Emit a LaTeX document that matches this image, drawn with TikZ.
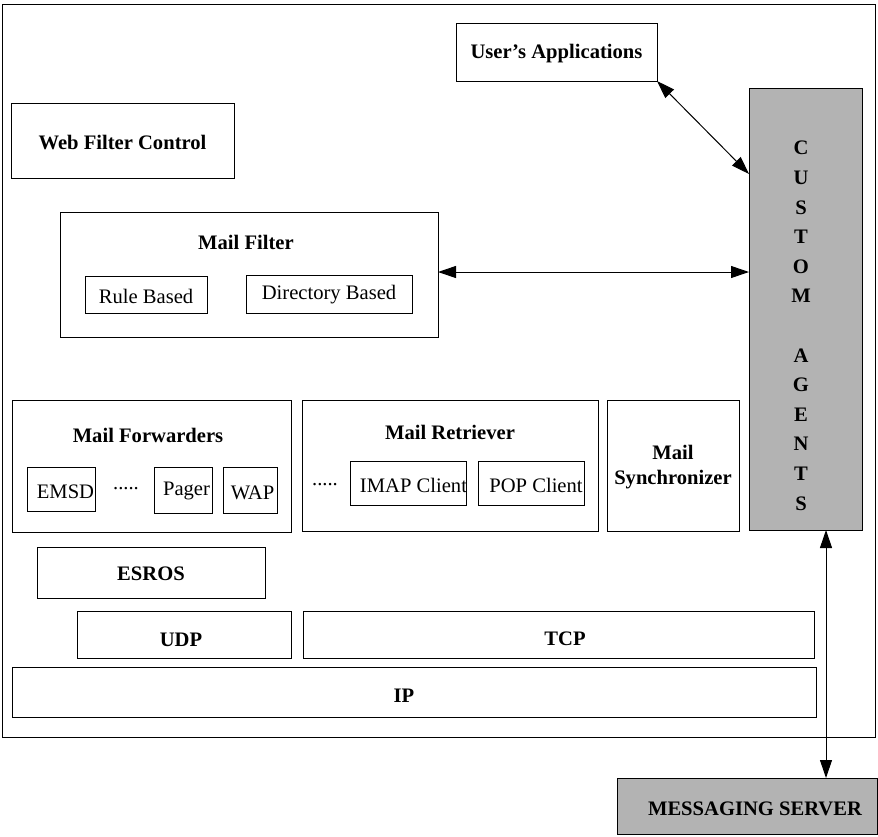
\documentclass[tikz,border=0pt]{standalone}
\usepackage{fontspec}
\setmainfont{Liberation Serif}
\usetikzlibrary{arrows.meta,calc}
\definecolor{boxgray}{RGB}{179,179,179}
\begin{document}
\begin{tikzpicture}[x=1pt,y=-1pt,
  box/.style={draw=black,line width=1pt,inner sep=0pt,outer sep=0pt,rectangle},
  btxt/.style={font=\fontsize{20.6}{25}\selectfont\bfseries,inner sep=0pt,align=center},
  rtxt/.style={font=\fontsize{20.6}{25}\selectfont,inner sep=0pt,align=center},
  link/.style={line width=1pt,{Triangle[length=18pt,width=12pt]}-{Triangle[length=18pt,width=12pt]}}]
\useasboundingbox (0,0) rectangle (878,836);
% outer frame
\node[box,minimum width=873pt,minimum height=733pt] (outer) at (438.5,370.5) {};
% top
\node[box,minimum width=201pt,minimum height=58pt] (ua) at (556.5,52) {};
\node[btxt] (uat) at (556.5,54) {User’s Applications};
\node[box,fill=boxgray,minimum width=113pt,minimum height=442pt] (ca) at (805.5,309) {};
\node[btxt,font=\fontsize{20.6}{29.6}\selectfont\bfseries,anchor=north] (cat) at (801,141) {C\\U\\S\\T\\O\\M\\[29.6pt]A\\G\\E\\N\\T\\S};
\node[box,minimum width=223pt,minimum height=75pt] (wfc) at (122.5,140.5) {};
\node[btxt] (wfct) at (122.5,143) {Web Filter Control};
% mail filter
\node[box,minimum width=378pt,minimum height=125pt] (mf) at (249,274.5) {};
\node[btxt] (mft) at (246,242) {Mail Filter};
\node[box,minimum width=122pt,minimum height=37pt] (rb) at (146,294.5) {};
\node[rtxt] (rbt) at (146,296) {Rule Based};
\node[box,minimum width=166pt,minimum height=38pt] (db) at (329,294) {};
\node[rtxt] (dbt) at (329,295) {Directory Based};
% mail forwarders
\node[box,minimum width=279pt,minimum height=132pt] (mfw) at (151.5,466) {};
\node[btxt] (mfwt) at (148,435) {Mail Forwarders};
\node[box,minimum width=68pt,minimum height=44pt] (emsd) at (61,489) {};
\node[rtxt] (emsdt) at (65.5,492) {EMSD};
\node[rtxt] (dots1) at (126,489) {.....};
\node[box,minimum width=58pt,minimum height=46pt] (pg) at (183,490) {};
\node[rtxt] (pgt) at (186.5,491) {Pager};
\node[box,minimum width=54pt,minimum height=46pt] (wap) at (250,490) {};
\node[rtxt] (wapt) at (252.5,493) {WAP};
% mail retriever
\node[box,minimum width=296pt,minimum height=131pt] (mr) at (450,465.5) {};
\node[btxt] (mrt) at (450,432) {Mail Retriever};
\node[rtxt] (dots2) at (325,485) {.....};
\node[box,minimum width=116pt,minimum height=44pt] (imap) at (408,483) {};
\node[rtxt] (imapt) at (413.5,485) {IMAP Client};
\node[box,minimum width=106pt,minimum height=44pt] (pop) at (531,483) {};
\node[rtxt] (popt) at (536,485) {POP Client};
% synchronizer
\node[box,minimum width=132pt,minimum height=131pt] (ms) at (673,465.5) {};
\node[btxt] (mst) at (673,467) {Mail\\Synchronizer};
% stack
\node[box,minimum width=228pt,minimum height=51pt] (esros) at (151,572.5) {};
\node[btxt] (esrost) at (151,574) {ESROS};
\node[box,minimum width=214pt,minimum height=47pt] (udp) at (184,634.5) {};
\node[btxt] (udpt) at (181,640) {UDP};
\node[box,minimum width=511pt,minimum height=47pt] (tcp) at (558.5,634.5) {};
\node[btxt] (tcpt) at (565,639) {TCP};
\node[box,minimum width=804pt,minimum height=50pt] (ip) at (414,692) {};
\node[btxt] (ipt) at (404,696) {IP};
% messaging server
\node[box,fill=boxgray,minimum width=260pt,minimum height=56pt] (msv) at (747,806) {};
\node[btxt] (msvt) at (755,809) {MESSAGING SERVER};
% connectors
\coordinate (caua) at ([yshift=-86pt]ca.north west);
\draw[link] (ua.south east) -- (caua);
\coordinate (mfe) at ([yshift=2.5pt]mf.east);
\draw[link] (mfe) -- (mfe -| ca.west);
\coordinate (cas) at ([xshift=20.5pt]ca.south);
\draw[link] (cas) -- (cas |- msv.north);
\end{tikzpicture}
\end{document}
